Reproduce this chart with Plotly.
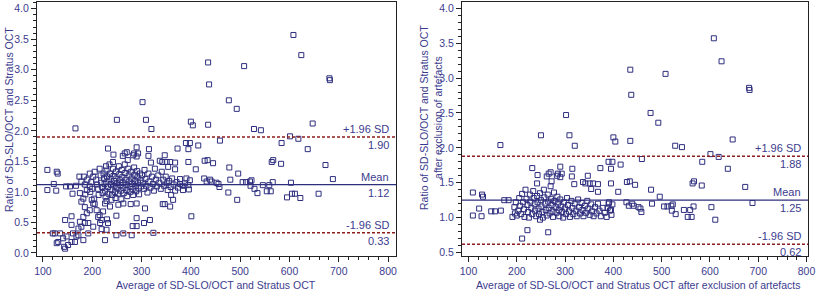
import plotly.graph_objects as go

# ---------------- data ----------------
# points that appear identically in both panels
shared_x = [608, 624, 435, 508, 437, 681, 682, 477, 493, 302, 250, 309, 320, 166, 400, 404, 435, 528, 542, 647,
            601, 618, 637, 584, 459, 390, 398, 395, 415, 410, 395, 428, 434, 445, 478, 480, 496, 456, 458, 427,
            439, 432, 442, 505, 512, 520, 523, 521, 529, 546, 554, 562, 559, 566, 564, 567, 583, 603, 611, 673,
            688, 109, 128, 130, 232, 243, 290, 315, 293, 290, 314, 319, 347, 337, 342, 351, 358, 368, 354, 368,
            373, 266, 270, 283, 285, 262, 272, 242, 391, 398, 388, 395, 396, 452, 109, 122, 127, 147, 155, 167,
            174, 183]
shared_y = [3.57, 3.24, 3.12, 3.06, 2.76, 2.86, 2.83, 2.50, 2.36, 2.47, 2.18, 2.18, 2.03, 2.04, 2.15, 2.09, 2.10, 2.03, 2.01, 2.12,
            1.91, 1.87, 1.70, 1.80, 1.84, 1.80, 1.80, 1.70, 1.76, 1.37, 1.49, 1.51, 1.52, 1.47, 1.40, 1.20, 1.30, 1.13, 1.08, 1.22,
            1.20, 1.17, 1.17, 1.16, 1.16, 1.17, 1.19, 1.10, 1.05, 1.11, 1.01, 1.01, 1.11, 1.16, 1.49, 1.52, 1.46, 1.15, 0.97, 1.44,
            1.21, 1.36, 1.33, 1.30, 1.71, 1.61, 1.73, 1.70, 1.63, 1.58, 1.59, 1.48, 1.60, 1.51, 1.49, 1.49, 1.49, 1.48, 1.41, 1.37,
            1.71, 1.63, 1.65, 1.60, 1.63, 1.59, 1.52, 1.49, 1.22, 1.19, 1.14, 1.11, 1.04, 1.15, 1.03, 1.13, 1.02, 1.09, 1.09, 1.10,
            1.25, 1.25]

# points only in the left panel (before exclusion of artefacts)
left_x = [160, 175, 182, 178, 204, 199, 202, 195, 189, 182, 175, 185, 192, 178, 172, 161, 158, 158, 145, 124,
          135, 120, 131, 128, 141, 148, 143, 145, 151, 158, 168, 165, 172, 182, 192, 202, 219, 226, 229, 249,
          263, 280, 282, 290, 290, 249, 232, 216, 212, 219, 209, 222, 205, 226, 236, 239, 253, 263, 278, 290,
          307, 317, 305, 324, 347, 358, 364, 401, 494, 476, 535, 595, 605, 622, 659, 215, 230, 185,
          185, 190, 198, 186, 196, 200, 189, 195, 195, 202, 178,
          205, 208, 210, 212, 213, 215, 217, 218, 220, 221, 223, 224, 225, 226, 227, 228, 229, 230, 231, 232, 233, 229,
          235, 236, 237, 238, 239, 240, 242, 243, 244, 245, 246, 247, 248, 249, 250, 251, 252, 254, 255, 256, 257, 258, 259, 260,
          261, 262, 263, 264, 266, 267, 268, 269, 270, 271, 273, 274, 275, 276, 277, 279, 280, 281, 282, 283, 285, 286, 287, 288,
          289, 291, 292, 293, 294, 295, 297, 298, 299,
          301, 303, 305, 306, 308, 310, 312, 314, 316, 318, 321, 323, 325, 327, 329, 331, 334, 336, 339, 341, 344, 346, 349, 351,
          353, 356, 359, 362, 365, 368, 371, 374, 378, 383, 378, 384, 360, 343]
left_y = [0.97, 0.98, 0.89, 0.84, 0.89, 0.87, 0.81, 0.70, 0.65, 0.59, 0.51, 0.49, 0.49, 0.43, 0.40, 0.32, 0.46, 0.60, 0.54, 0.32,
          0.32, 0.32, 0.18, 0.16, 0.24, 0.27, 0.10, 0.07, 0.13, 0.18, 0.27, 0.18, 0.29, 0.21, 0.32, 0.43, 0.39, 0.21, 0.38, 0.29,
          0.32, 0.29, 0.44, 0.44, 0.57, 0.61, 0.49, 0.49, 0.59, 0.54, 0.70, 0.68, 0.80, 0.81, 0.76, 0.87, 0.79, 0.81, 0.80, 0.81,
          0.73, 0.54, 0.49, 0.33, 0.80, 0.76, 0.87, 0.60, 0.87, 0.99, 0.98, 0.91, 0.97, 0.90, 0.97, 0.62, 0.55, 0.75,
          1.12, 1.20, 1.16, 0.96, 1.00, 1.05, 1.03, 1.09, 1.30, 1.25, 1.17,
          1.33, 1.20, 1.12, 1.05, 0.95, 1.38, 1.27, 1.15, 1.08, 0.98, 1.30, 1.22, 1.13, 1.02, 0.92, 1.42, 1.35, 1.25, 1.17, 1.08, 0.97, 0.85,
          1.45, 1.30, 1.21, 1.12, 1.04, 0.95, 1.38, 1.26, 1.18, 1.10, 1.00, 0.90, 1.33, 1.22, 1.14, 1.06, 0.97, 1.42, 1.29, 1.19, 1.11, 1.02, 0.88, 1.36,
          1.24, 1.15, 1.07, 0.98, 1.45, 1.31, 1.20, 1.12, 1.03, 0.93, 1.38, 1.27, 1.17, 1.09, 1.00, 1.33, 1.22, 1.13, 1.05, 0.95, 1.40, 1.28, 1.18, 1.10,
          1.01, 1.34, 1.24, 1.14, 1.06, 0.96, 1.30, 1.19, 1.09,
          1.27, 1.15, 1.05, 1.36, 1.21, 1.10, 0.99, 1.30, 1.17, 1.07, 1.25, 1.13, 1.02, 1.38, 1.20, 1.09, 1.27, 1.15, 1.05, 1.33, 1.20, 1.10, 1.25, 1.14,
          1.03, 1.18, 1.08, 1.22, 1.12, 1.02, 1.16, 1.07, 1.13, 1.10, 1.21, 1.03, 0.95, 0.80]

# points only in the right panel (after exclusion of artefacts)
right_x = [191, 196, 211, 222, 265, 248,
           195, 198, 200, 203, 205, 207, 209, 211, 213, 215, 216, 218, 220, 222, 223, 225, 227, 228, 230, 232,
           234, 235, 237, 238, 240, 242, 243, 245, 246, 248, 250, 251, 253, 254, 256, 257, 259, 260, 262, 264,
           265, 266, 268, 270, 271, 272, 274, 275, 277, 278, 280, 282, 284, 285, 287, 288, 290, 292, 294, 296,
           298, 300, 302, 304, 306, 308, 310, 313, 315, 317, 320, 322, 324, 327, 329, 331, 334, 336, 338, 341,
           343, 346, 348, 351, 354, 356, 359, 362, 365, 368, 371, 374, 378, 382, 386, 390, 393]
right_y = [1.01, 1.06, 0.70, 0.82, 0.79, 0.97,
           1.15, 1.22, 1.03, 1.10, 1.28, 1.17, 1.05, 1.34, 1.22, 1.12, 1.01, 1.40, 1.27, 1.18, 1.08, 1.00, 1.33, 1.23, 1.14, 1.05,
           1.38, 1.28, 1.19, 1.10, 1.02, 1.31, 1.22, 1.13, 1.05, 1.35, 1.25, 1.16, 1.08, 1.00, 1.40, 1.29, 1.20, 1.11, 1.03, 1.33,
           1.23, 1.14, 1.06, 1.45, 1.27, 1.18, 1.09, 1.01, 1.36, 1.24, 1.15, 1.07, 1.30, 1.20, 1.11, 1.02, 1.26, 1.16, 1.08, 1.00,
           1.22, 1.13, 1.05, 1.28, 1.18, 1.09, 1.01, 1.24, 1.14, 1.05, 1.20, 1.10, 1.02, 1.26, 1.15, 1.06, 1.21, 1.11, 1.02, 1.17,
           1.07, 1.24, 1.13, 1.04, 1.19, 1.09, 1.02, 1.15, 1.06, 1.20, 1.10, 1.02, 1.14, 1.07, 1.01, 1.20, 1.10]

# reference lines: (+1.96 SD, mean, -1.96 SD)
left_lines = [1.90, 1.12, 0.33]
right_lines = [1.88, 1.25, 0.62]

x_ticks = [100, 200, 300, 400, 500, 600, 700, 800]
left_y_ticks = [0.0, 0.5, 1.0, 1.5, 2.0, 2.5, 3.0, 3.5, 4.0]
right_y_ticks = [0.5, 1.0, 1.5, 2.0, 2.5, 3.0, 3.5, 4.0]

left_xtitle = "Average of SD-SLO/OCT and Stratus OCT"
left_ytitle = "Ratio of SD-SLO/OCT and Stratus OCT"
right_xtitle = "Average of SD-SLO/OCT and Stratus OCT after exclusion of artefacts"
right_ytitle = "Ratio of SD-SLO/OCT and Stratus OCT<br>after exclusion of artefacts"

# ---------------- styling ----------------
W, H = 817, 293
NAVY = "#2e2e7e"
TXT = "#3c3c8e"
RED = "#8b1e1e"
FONT = "Liberation Sans, Arial, sans-serif"
FS = 10.5

def px_x(p):
    # page pixel -> paper fraction
    return p / W

def px_y(p):
    return 1 - p / H

fig = go.Figure()

marker = dict(symbol="square-open", size=5, color=NAVY, line=dict(width=1, color=NAVY))
fig.add_trace(go.Scatter(x=shared_x + left_x, y=shared_y + left_y, mode="markers",
                         marker=marker, xaxis="x", yaxis="y", showlegend=False, hoverinfo="skip"))
fig.add_trace(go.Scatter(x=shared_x + right_x, y=shared_y + right_y, mode="markers",
                         marker=marker, xaxis="x2", yaxis="y2", showlegend=False, hoverinfo="skip"))

ydom = [px_y(256), px_y(2)]
axis_common = dict(showgrid=False, zeroline=False, showline=True, linecolor="#222222", linewidth=1,
                   mirror=True, ticks="outside", ticklen=5, tickcolor="#222222",
                   tickfont=dict(family=FONT, size=FS, color=TXT), automargin=False)

fig.update_layout(
    width=W, height=H, margin=dict(l=0, r=0, t=0, b=0),
    paper_bgcolor="white", plot_bgcolor="white", showlegend=False,
    xaxis=dict(domain=[px_x(37), px_x(396)], range=[88, 816], tickvals=x_ticks,
               minor=dict(dtick=20, tick0=0, ticks="outside", ticklen=3, tickcolor="#222222"),
               anchor="y", **axis_common),
    yaxis=dict(domain=ydom, range=[-0.05, 4.11], tickvals=left_y_ticks, tickformat=".1f",
               minor=dict(dtick=0.1, tick0=0, ticks="outside", ticklen=3, tickcolor="#222222"),
               anchor="x", **axis_common),
    xaxis2=dict(domain=[px_x(462), px_x(808)], range=[86.5, 803], tickvals=x_ticks,
                minor=dict(dtick=20, tick0=0, ticks="outside", ticklen=3, tickcolor="#222222"),
                anchor="y2", **axis_common),
    yaxis2=dict(domain=ydom, range=[0.45, 4.09], tickvals=right_y_ticks, tickformat=".1f",
                minor=dict(dtick=0.1, tick0=0, ticks="outside", ticklen=3, tickcolor="#222222"),
                anchor="x2", **axis_common),
)

shapes = []
annotations = []
label_names = ["+1.96 SD", "Mean", "-1.96 SD"]
for xa, ya, vals in (("x", "y", left_lines), ("x2", "y2", right_lines)):
    for i, v in enumerate(vals):
        if i == 1:
            line = dict(color=NAVY, width=1.3)
        else:
            line = dict(color=RED, width=1.5, dash="3px,2px")
        shapes.append(dict(type="line", xref=f"{xa} domain", yref=ya, x0=0, x1=1, y0=v, y1=v,
                           line=line, layer="above"))
        annotations.append(dict(xref=f"{xa} domain", yref=ya, x=0.985, y=v, text=label_names[i],
                                showarrow=False, xanchor="right", yanchor="bottom", yshift=0,
                                font=dict(family=FONT, size=FS + 0.5, color=TXT)))
        annotations.append(dict(xref=f"{xa} domain", yref=ya, x=0.985, y=v, text=f"{v:.2f}",
                                showarrow=False, xanchor="right", yanchor="top", yshift=0,
                                font=dict(family=FONT, size=FS + 0.5, color=TXT)))

# axis titles
annotations.append(dict(xref="paper", yref="paper", x=px_x(216), y=px_y(285), text=left_xtitle,
                        showarrow=False, xanchor="center", yanchor="middle",
                        font=dict(family=FONT, size=FS, color=TXT)))
annotations.append(dict(xref="paper", yref="paper", x=px_x(638), y=px_y(285), text=right_xtitle,
                        showarrow=False, xanchor="center", yanchor="middle",
                        font=dict(family=FONT, size=FS, color=TXT)))
annotations.append(dict(xref="paper", yref="paper", x=px_x(9), y=px_y(120), text=left_ytitle,
                        showarrow=False, xanchor="center", yanchor="middle", textangle=-90,
                        font=dict(family=FONT, size=FS, color=TXT)))
annotations.append(dict(xref="paper", yref="paper", x=px_x(431), y=px_y(118), text=right_ytitle,
                        showarrow=False, xanchor="center", yanchor="middle", textangle=-90,
                        font=dict(family=FONT, size=FS, color=TXT)))

fig.update_layout(shapes=shapes, annotations=annotations)
# the page body gets no margin, so the 817x293 figure fills the window exactly
fig.write_html("out.html", config={"displayModeBar": False},
               post_script="document.body.style.margin='0';")
